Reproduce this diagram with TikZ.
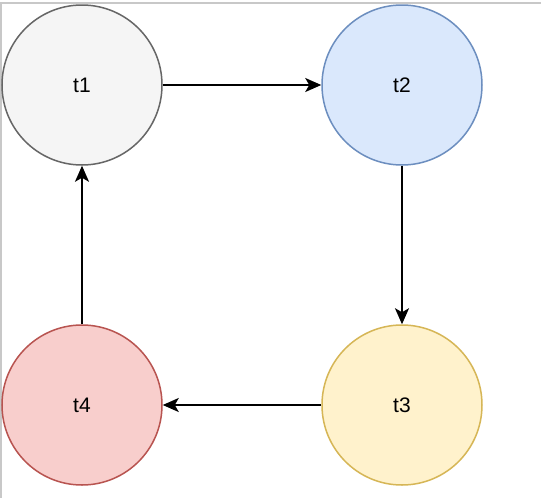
\documentclass[tikz,border=0pt]{standalone}
\usepackage{fontspec}
\setmainfont{Liberation Sans}
\usetikzlibrary{arrows.meta}
\definecolor{gfill}{HTML}{F5F5F5}\definecolor{gline}{HTML}{666666}
\definecolor{bfill}{HTML}{DAE8FC}\definecolor{bline}{HTML}{6C8EBF}
\definecolor{yfill}{HTML}{FFF2CC}\definecolor{yline}{HTML}{D6B656}
\definecolor{rfill}{HTML}{F8CECC}\definecolor{rline}{HTML}{B85450}
\definecolor{edge}{HTML}{C8C8C8}
\tikzset{
  state/.style={circle, minimum size=160pt, inner sep=0pt, line width=1.5pt, font=\fontsize{21pt}{24pt}\selectfont},
  conn/.style={line width=2pt, -{Stealth[length=16pt, width=14pt, inset=4pt]}}
}
\begin{document}
\begin{tikzpicture}[x=1pt,y=-1pt]
\useasboundingbox (0,0) rectangle (541,498);
\fill[white] (0,0) rectangle (541,498);
\draw[edge, line width=1.5pt] (0,3) -- (541,3);
\draw[edge, line width=1.5pt] (1,3) -- (1,498);
\node[state, draw=gline, fill=gfill] (t1) at (82,85) {t1};
\node[state, draw=bline, fill=bfill] (t2) at (402,85) {t2};
\node[state, draw=yline, fill=yfill] (t3) at (402,405) {t3};
\node[state, draw=rline, fill=rfill] (t4) at (82,405) {t4};
\draw[conn] (t1) -- (t2);
\draw[conn] (t2) -- (t3);
\draw[conn] (t3) -- (t4);
\draw[conn] (t4) -- (t1);
\end{tikzpicture}
\end{document}
